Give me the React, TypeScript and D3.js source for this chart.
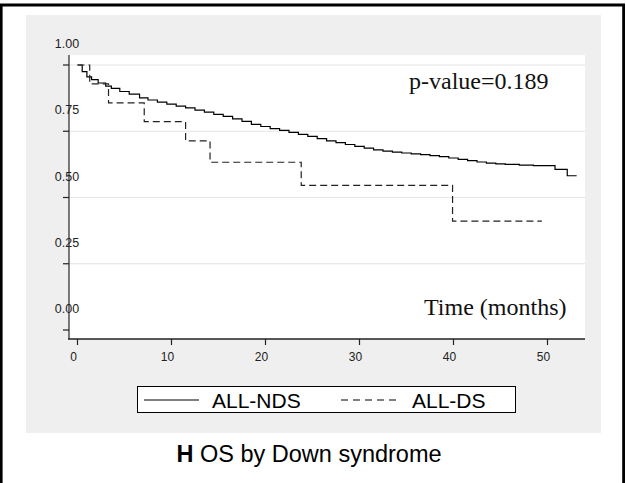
import React from 'react';
import * as d3 from 'd3';

// Kaplan-Meier estimates
const ndsTime = [0, 0.5, 1, 1.5, 2.2, 3, 3.6, 4.5, 5.5, 6.6, 7.5, 8.5, 9.5, 10.5, 11.5, 12.5, 13.5, 14.5, 15.5, 16.5, 17.5, 18.5, 19.5, 20.5, 21.5, 22.5, 23.5, 24.5, 25.5, 26.5, 27.5, 28.5, 29.5, 30.5, 31.5, 32.5, 33.5, 34.5, 35.5, 36.5, 37.5, 38.5, 39.5, 40.5, 41.5, 42.5, 43.5, 44.5, 45.5, 47, 48.5, 50.8, 52.1, 53.1];
const ndsSurv = [1, 0.975, 0.955, 0.945, 0.932, 0.92, 0.912, 0.9, 0.89, 0.876, 0.868, 0.86, 0.852, 0.845, 0.838, 0.83, 0.822, 0.814, 0.806, 0.797, 0.787, 0.776, 0.768, 0.76, 0.753, 0.746, 0.738, 0.731, 0.722, 0.714, 0.707, 0.7, 0.693, 0.686, 0.68, 0.675, 0.671, 0.668, 0.665, 0.662, 0.658, 0.654, 0.649, 0.644, 0.639, 0.634, 0.63, 0.627, 0.625, 0.622, 0.62, 0.606, 0.582, 0.582];

const dsTime = [0, 1.3, 3.3, 7.1, 11.5, 14.1, 23.8, 39.9, 49.4];
const dsSurv = [1, 0.929, 0.857, 0.786, 0.714, 0.633, 0.546, 0.411, 0.411];

const yTicks = [0, 0.25, 0.5, 0.75, 1];
const yGrid = [0.25, 0.5, 0.75, 1];
const xTicks = [0, 10, 20, 30, 40, 50];

const seriesNames = ['ALL-NDS', 'ALL-DS'];

const App = () => {
  const W = 626;
  const H = 483;
  const plot = { left: 69, right: 585, top: 55, bottom: 339 };

  const x = d3.scaleLinear().domain([0, 50]).range([77.5, 547.5]);
  const y = d3.scaleLinear().domain([0, 1]).range([330, 65]);

  const line = d3.line<[number, number]>()
    .x(d => x(d[0]))
    .y(d => y(d[1]))
    .curve(d3.curveStepAfter);

  const ndsPath = line(ndsTime.map((t, i) => [t, ndsSurv[i]] as [number, number])) || '';
  const dsPath = line(dsTime.map((t, i) => [t, dsSurv[i]] as [number, number])) || '';

  const sans = 'Arial, "Liberation Sans", Helvetica, sans-serif';
  const serif = '"Times New Roman", "Liberation Serif", Times, serif';

  return (
    <svg width={W} height={H} style={{ position: 'absolute', left: 0, top: 0, background: '#fff' }}>
      <rect x={0} y={0} width={W} height={H} fill="#fff" />
      <path d={`M1.2,${H} V5 H623.6 V${H}`} fill="none" stroke="#000" strokeWidth={2.8} />

      <rect x={26} y={15} width={575} height={418} fill="#efefef" />
      <rect x={plot.left} y={plot.top} width={plot.right - plot.left} height={plot.bottom - plot.top} fill="#fff" />

      {yGrid.map(v => (
        <line key={v} x1={plot.left} x2={plot.right} y1={y(v)} y2={y(v)} stroke="#e4e4e4" strokeWidth={1} />
      ))}

      {/* y axis */}
      <line x1={plot.left} x2={plot.left} y1={plot.top} y2={plot.bottom} stroke="#444" strokeWidth={1.4} />
      {yTicks.map(v => (
        <g key={v}>
          <line x1={plot.left - 6} x2={plot.left} y1={y(v)} y2={y(v)} stroke="#222" strokeWidth={1.2} />
          <text x={67} y={y(v) - 17} textAnchor="middle" fontFamily={sans} fontSize={12.5} fill="#222">
            {v.toFixed(2)}
          </text>
        </g>
      ))}

      {/* x axis */}
      <line x1={plot.left - 1} x2={plot.right} y1={plot.bottom} y2={plot.bottom} stroke="#222" strokeWidth={1.4} />
      {xTicks.map(v => (
        <g key={v}>
          <line x1={x(v)} x2={x(v)} y1={plot.bottom} y2={plot.bottom + 6} stroke="#222" strokeWidth={1.2} />
          <text x={x(v) - 4} y={361} textAnchor="middle" fontFamily={sans} fontSize={12} fill="#222">
            {v}
          </text>
        </g>
      ))}

      {/* curves */}
      <path d={ndsPath} fill="none" stroke="#000" strokeWidth={1.2} />
      <path d={dsPath} fill="none" stroke="#222" strokeWidth={1.2} strokeDasharray="7,4" />

      <text x={409} y={89} fontFamily={serif} fontSize={24} fill="#111">p-value=0.189</text>
      <text x={424} y={315} fontFamily={serif} fontSize={24} fill="#111">Time (months)</text>

      {/* legend */}
      <rect x={137.5} y={386.5} width={378} height={26} fill="#fff" stroke="#000" strokeWidth={1} />
      <line x1={144} x2={199} y1={400} y2={400} stroke="#000" strokeWidth={1} />
      <text x={212} y={407.5} fontFamily={sans} fontSize={21} fill="#000">{seriesNames[0]}</text>
      <line x1={341} x2={397} y1={400} y2={400} stroke="#000" strokeWidth={1} strokeDasharray="7,5" />
      <text x={412} y={407.5} fontFamily={sans} fontSize={21} fill="#000">{seriesNames[1]}</text>

      <text x={309} y={462} textAnchor="middle" fontFamily={sans} fontSize={23.5} fill="#000">
        <tspan fontWeight="bold">H</tspan> OS by Down syndrome
      </text>
    </svg>
  );
};

export default App;
